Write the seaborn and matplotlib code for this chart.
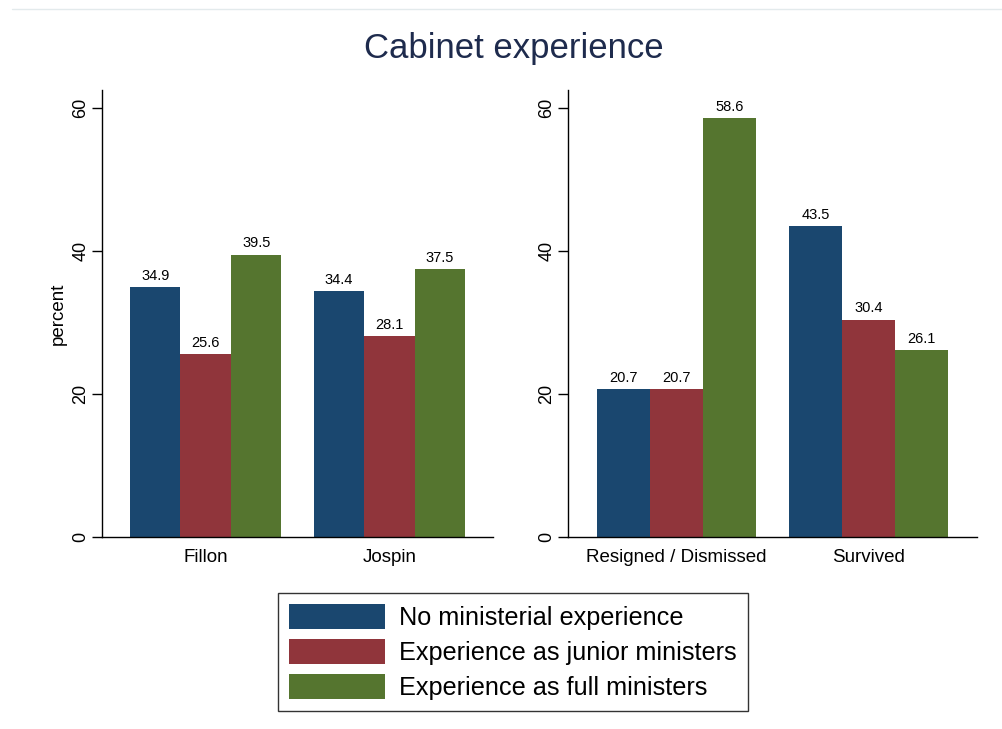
import matplotlib
matplotlib.use("Agg")
import matplotlib.pyplot as plt
from matplotlib.lines import Line2D
from matplotlib.patches import Patch
import pandas as pd
import seaborn as sns

sns.set_theme(style="white")
plt.rcParams["font.family"] = ["Liberation Sans", "DejaVu Sans"]
plt.rcParams["text.color"] = "black"
plt.rcParams["axes.labelcolor"] = "black"
plt.rcParams["xtick.color"] = "black"
plt.rcParams["ytick.color"] = "black"

experience = ["No ministerial experience", "Experience as junior ministers",
              "Experience as full ministers"]
colors = ["#1a476f", "#90353b", "#55752f"]

pm_groups = ["Fillon", "Jospin"]
pm_values = [[34.9, 34.4], [25.6, 28.1], [39.5, 37.5]]

fate_groups = ["Resigned / Dismissed", "Survived"]
fate_values = [[20.7, 43.5], [20.7, 30.4], [58.6, 26.1]]

y_ticks = [0, 20, 40, 60]


def long_table(groups, values):
    rows = []
    for exp, vals in zip(experience, values):
        for g, v in zip(groups, vals):
            rows.append({"group": g, "experience": exp, "percent": v})
    return pd.DataFrame(rows)


fig = plt.figure(figsize=(10.03, 7.29), dpi=100)
ax1 = fig.add_axes([0.1017, 0.2634, 0.3898, 0.6131])
ax2 = fig.add_axes([0.5663, 0.2634, 0.4078, 0.6131])

for ax, groups, values in [(ax1, pm_groups, pm_values), (ax2, fate_groups, fate_values)]:
    df = long_table(groups, values)
    sns.barplot(data=df, x="group", y="percent", hue="experience",
                hue_order=experience, palette=colors, width=0.825,
                saturation=1, linewidth=0, legend=False, ax=ax)
    for cont in ax.containers:
        ax.bar_label(cont, fmt="%.1f", padding=3, fontsize=10.5, color="black")
    ax.set_ylim(0, 62.5)
    ax.set_xlim(-0.565, 1.565)
    ax.set_yticks(y_ticks)
    ax.set_yticklabels([str(t) for t in y_ticks], rotation=90, va="center", fontsize=13)
    ax.tick_params(axis="y", left=True, length=7, width=1, color="black", pad=2)
    ax.tick_params(axis="x", bottom=False, labelsize=13.5, pad=3)
    ax.set_xlabel("")
    for side in ["top", "right"]:
        ax.spines[side].set_visible(False)
    for side in ["left", "bottom"]:
        ax.spines[side].set_color("black")
        ax.spines[side].set_linewidth(1)

ax1.set_ylabel("percent", fontsize=13.5, labelpad=4)
ax2.set_ylabel("")

fig.text(0.512, 0.934, "Cabinet experience", ha="center", va="center",
         fontsize=25, color="#1e2b4d")

fig.add_artist(Line2D([0.012, 1.0], [0.988, 0.988], color="#e3eaec", lw=1))

handles = [Patch(facecolor=c, edgecolor="none") for c in colors]
leg = fig.legend(handles, experience, loc="center", bbox_to_anchor=(0.5115, 0.1055),
                 fontsize=18.2, frameon=True, fancybox=False, handlelength=3.8,
                 handleheight=1.15, handletextpad=0.55, labelspacing=0.34,
                 borderpad=0.45, borderaxespad=0)
leg.get_frame().set_edgecolor("black")
leg.get_frame().set_linewidth(1)

fig.savefig("out.png", dpi=100)
